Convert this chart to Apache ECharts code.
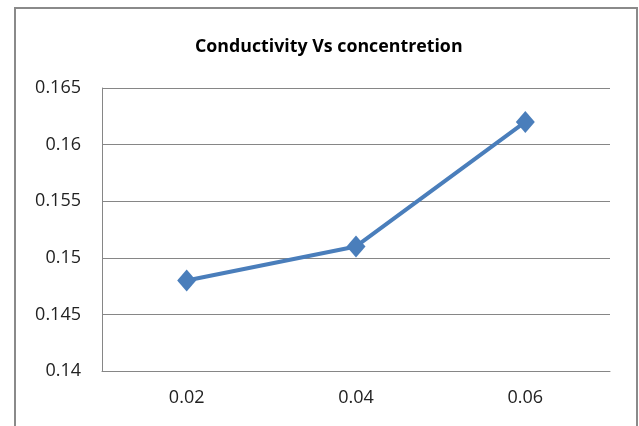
<!DOCTYPE html>
<html><head><meta charset="utf-8">
<script src="https://cdn.jsdelivr.net/npm/echarts@6/dist/echarts.min.js"></script>
<style>html,body{margin:0;padding:0;background:#fff}#c{width:639px;height:426px}</style>
</head><body><div id="c"></div>
<script>
const categories = ['0.02', '0.04', '0.06'];
const conductivity = [0.148, 0.151, 0.162];
const yMin = 0.14, yMax = 0.165, yStep = 0.005;
const titleText = 'Conductivity Vs concentretion';

const chart = echarts.init(document.getElementById('c'), null, {renderer: 'canvas'});
chart.setOption({
  animation: false,
  backgroundColor: '#fff',
  graphic: [{
    type: 'rect', shape: {x: 15, y: 8, width: 622, height: 440},
    style: {fill: 'none', stroke: '#8a8a8a', lineWidth: 2}, silent: true
  }],
  title: {
    text: titleText, left: 190, top: 33,
    textStyle: {fontFamily: 'Open Sans', fontWeight: 'bold', fontSize: 17.8, color: '#000'}
  },
  grid: {left: 102, right: 29, top: 88, bottom: 55},
  xAxis: {
    type: 'category', data: categories, boundaryGap: true,
    axisLine: {lineStyle: {color: '#868686', width: 1}},
    axisTick: {show: false},
    axisLabel: {fontFamily: 'Open Sans', fontSize: 18, color: '#222', margin: 18}
  },
  yAxis: {
    type: 'value', min: yMin, max: yMax, interval: yStep,
    axisLine: {show: true, lineStyle: {color: '#868686', width: 1}},
    axisTick: {show: false},
    splitLine: {lineStyle: {color: '#868686', width: 1}},
    axisLabel: {fontFamily: 'Open Sans', fontSize: 18, color: '#222', margin: 21,
      formatter: v => String(parseFloat(v.toFixed(3)))}
  },
  series: [{
    type: 'line', data: conductivity,
    symbol: 'diamond', symbolSize: [19, 22],
    lineStyle: {color: '#4A7EBB', width: 4},
    itemStyle: {color: '#4A7EBB'}
  }]
});
</script></body></html>
